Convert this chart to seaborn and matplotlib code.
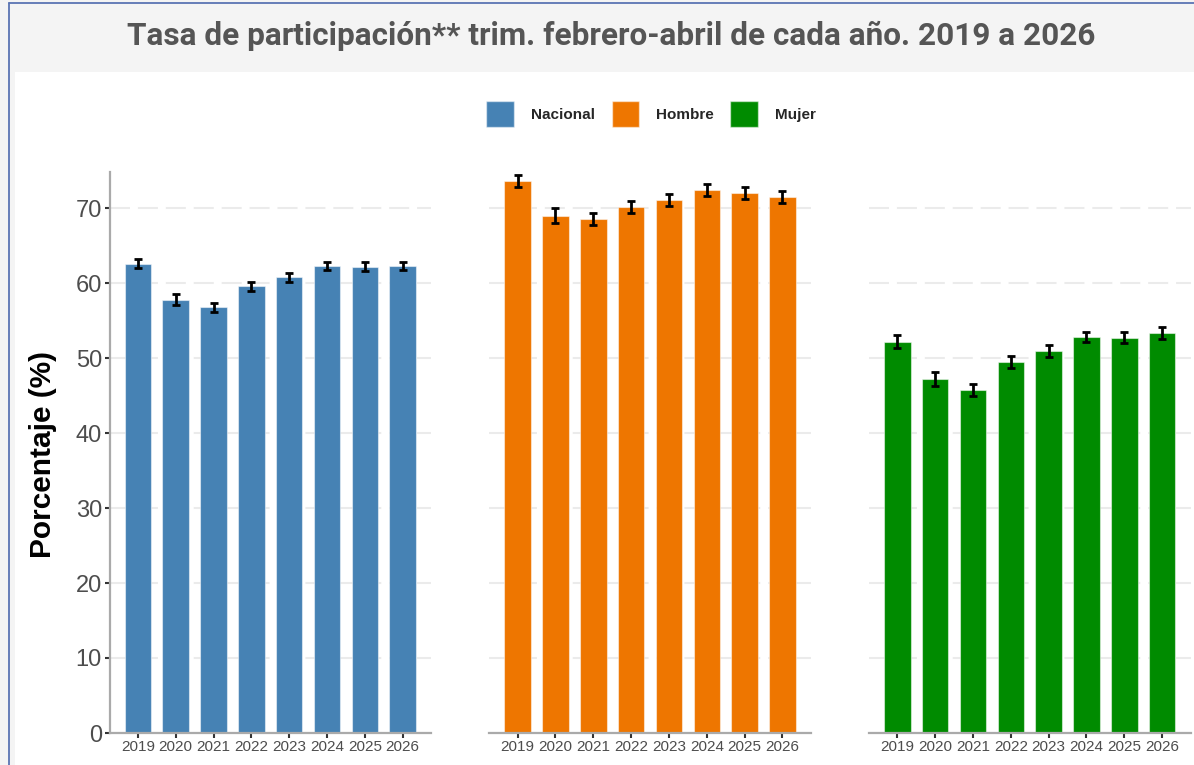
import numpy as np
import pandas as pd
import matplotlib
matplotlib.use("Agg")
import matplotlib.pyplot as plt
from matplotlib.patches import Rectangle, Patch
from matplotlib.lines import Line2D
import seaborn as sns

# Datos
anios = ["2019", "2020", "2021", "2022", "2023", "2024", "2025", "2026"]
grupos = ["Nacional", "Hombre", "Mujer"]
colores = ["#4682B4", "#EE7600", "#008B00"]

nacional = [62.6, 57.8, 56.8, 59.6, 60.8, 62.3, 62.2, 62.3]
hombre = [73.6, 69.0, 68.5, 70.2, 71.1, 72.4, 72.0, 71.5]
mujer = [52.2, 47.2, 45.7, 49.5, 51.0, 52.8, 52.7, 53.3]

err_nacional = [0.6, 0.72, 0.6, 0.6, 0.6, 0.55, 0.55, 0.55]
err_hombre = [0.78, 0.95, 0.8, 0.8, 0.78, 0.75, 0.75, 0.8]
err_mujer = [0.9, 0.95, 0.82, 0.82, 0.8, 0.7, 0.75, 0.8]

valores = [nacional, hombre, mujer]
errores = [err_nacional, err_hombre, err_mujer]

df = pd.DataFrame({
    "grupo": np.repeat(grupos, len(anios)),
    "anio": anios * len(grupos),
    "valor": np.concatenate(valores),
    "error": np.concatenate(errores),
})

sns.set_theme(style="white")
plt.rcParams["font.family"] = ["Liberation Sans", "DejaVu Sans"]

W, H = 1194, 765
fig = plt.figure(figsize=(W / 100, H / 100), dpi=100)
fig.patch.set_facecolor("#f4f4f4")

# panel blanco y bordes del tablero
fig.patches.append(Rectangle((15 / W, 0), 1, 1 - 72 / H, transform=fig.transFigure,
                             facecolor="white", edgecolor="none", zorder=-10))
fig.lines.append(Line2D([8.5 / W, 8.5 / W], [0, 1 - 2.5 / H], transform=fig.transFigure,
                        color="#5b74b3", lw=1.3, zorder=-5))
fig.lines.append(Line2D([8.5 / W, 1], [1 - 2.5 / H, 1 - 2.5 / H], transform=fig.transFigure,
                        color="#5b74b3", lw=1.3, zorder=-5))

fig.text(611 / W, 1 - 36 / H, "Tasa de participación** trim. febrero-abril de cada año. 2019 a 2026",
         ha="center", va="center", fontsize=22.7, fontweight="bold", color="#555555",
         family=["Roboto", "DejaVu Sans"])

izquierdas = [109.5, 489.3, 869.0]
ancho = 321.5
top, bottom = 172, 733

for i, g in enumerate(grupos):
    ax = fig.add_axes([izquierdas[i] / W, 1 - bottom / H, ancho / W, (bottom - top) / H])
    sub = df[df["grupo"] == g]
    sns.barplot(data=sub, x="anio", y="valor", color=colores[i], width=0.7,
                saturation=1, edgecolor=(1, 1, 1, 0.5), linewidth=0.8, ax=ax, zorder=2)
    ax.errorbar(np.arange(len(anios)), sub["valor"], yerr=sub["error"], fmt="none",
                ecolor="black", elinewidth=2, capsize=3, capthick=2, zorder=5)
    ax.set_xlim(-0.75, 7.75)
    ax.set_ylim(0, 74.8)
    ax.set_yticks(range(0, 71, 10))
    ax.set_xlabel("")
    ax.set_ylabel("")
    ax.set_facecolor("none")
    ax.set_axisbelow(True)
    ax.yaxis.grid(True, color="#ebebeb", lw=1.5, linestyle=(0, (9.6, 3.8)))
    for s in ["top", "right"]:
        ax.spines[s].set_visible(False)
    ax.spines["bottom"].set_color("#aaaaaa")
    ax.spines["bottom"].set_linewidth(1.6)
    ax.tick_params(axis="x", bottom=True, length=3.5, width=1.5, color="#333333",
                   labelsize=11, labelcolor="#4d4d4d", pad=1.5)
    if i == 0:
        ax.spines["left"].set_color("#aaaaaa")
        ax.spines["left"].set_linewidth(1.6)
        ax.tick_params(axis="y", left=True, length=3.5, width=1.5, color="#333333",
                       labelsize=17, labelcolor="#4d4d4d", pad=2)
    else:
        ax.spines["left"].set_visible(False)
        ax.tick_params(axis="y", left=False, labelleft=False)

fig.text(43 / W, 1 - 455 / H, "Porcentaje (%)", rotation=90, ha="center", va="center",
         fontsize=21.5, fontweight="bold", color="black")

handles = [Patch(facecolor=c, edgecolor=(1, 1, 1, 0.5), label=g) for g, c in zip(grupos, colores)]
leg = fig.legend(handles=handles, loc="center", bbox_to_anchor=(651 / W, 1 - 114 / H), ncol=3,
                 frameon=False, prop={"weight": "bold", "size": 11},
                 handlelength=1.8, handleheight=2.2, handletextpad=1.1, columnspacing=1.1)

fig.savefig("out.png", dpi=100, facecolor=fig.get_facecolor())
